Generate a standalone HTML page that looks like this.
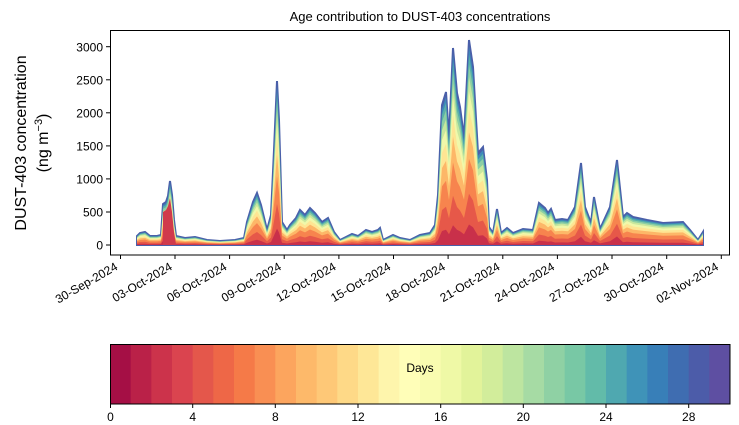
<!DOCTYPE html>
<html><head><meta charset="utf-8"><style>
html,body{margin:0;padding:0;background:#fff;}
svg{display:block;font-family:"Liberation Sans","DejaVu Sans",sans-serif;}
</style></head><body>
<svg width="739" height="425" viewBox="0 0 739 425" xmlns="http://www.w3.org/2000/svg" xmlns:xlink="http://www.w3.org/1999/xlink">
<defs>
<clipPath id="pc"><rect x="110" y="30" width="620" height="225"/></clipPath>
<path id="d" d="M137,245 L137,236 L140,233 L145,232 L150,236 L157,236 L161,235 L163,204 L166,202 L168,196 L170,181 L172,195 L174,220 L176,236 L185,238 L195,237 L207,240 L220,241 L235,240 L244,238 L247,222 L253,202 L257,193 L261,205 L267,230 L271,215 L274,150 L277,81 L279,120 L282,222 L287,230 L290,225 L296,218 L300,210 L305,215 L310,208 L315,213 L322,222 L328,218 L334,232 L340,240 L346,237 L352,234 L358,236 L366,230 L372,232 L378,230 L380,228 L383,240 L393,235 L400,238 L410,240 L420,235 L430,233 L435,225 L438,195 L442,105 L446,92 L449,138 L453,48 L457,93 L460,107 L464,137 L469,40 L473,67 L478,153 L483,147 L487,180 L489,227 L493,233 L497,209 L501,233 L507,228 L513,233 L523,229 L533,230 L539,203 L545,208 L548,213 L551,209 L555,220 L562,219 L568,220 L575,207 L581,163 L585,207 L591,223 L594,197 L600,229 L610,207 L617,160 L623,217 L627,213 L633,217 L647,220 L663,223 L683,222 L690,230 L698,240 L703,232 L703,245 Z"/>
</defs>
<rect x="0" y="0" width="739" height="425" fill="#fff"/>
<text x="420" y="21" font-size="13" text-anchor="middle">Age contribution to DUST-403 concentrations</text>
<g clip-path="url(#pc)">
<use xlink:href="#d" fill="#4a5fa9" stroke="#4a5fa9" stroke-width="2"/>
<use xlink:href="#d" fill="#3d8ab9" transform="translate(0,245) scale(1,0.97) translate(0,-245)"/>
<use xlink:href="#d" fill="#5ab1a8" transform="translate(0,245) scale(1,0.93) translate(0,-245)"/>
<use xlink:href="#d" fill="#8ccfa4" transform="translate(0,245) scale(1,0.88) translate(0,-245)"/>
<use xlink:href="#d" fill="#c8e89e" transform="translate(0,245) scale(1,0.82) translate(0,-245)"/>
<use xlink:href="#d" fill="#f0f8aa" transform="translate(0,245) scale(1,0.75) translate(0,-245)"/>
<use xlink:href="#d" fill="#fee593" transform="translate(0,245) scale(1,0.66) translate(0,-245)"/>
<use xlink:href="#d" fill="#fdb768" transform="translate(0,245) scale(1,0.55) translate(0,-245)"/>
<use xlink:href="#d" fill="#f7844e" transform="translate(0,245) scale(1,0.42) translate(0,-245)"/>
<use xlink:href="#d" fill="#e65849" transform="translate(0,245) scale(1,0.25) translate(0,-245)"/>
<use xlink:href="#d" fill="#c9304a" transform="translate(0,245) scale(1,0.10) translate(0,-245)"/>
<polygon points="163,245 163,212 166,210 168,206 170,198 172,212 174,232 176,245" fill="#d03a4c"/>
</g>
<rect x="110.5" y="30.5" width="619" height="224.5" fill="none" stroke="#000" stroke-width="1"/>
<g font-size="12" text-anchor="end" fill="#000">
<line x1="106" y1="245" x2="110" y2="245" stroke="#000"/><text x="103" y="249.5">0</text>
<line x1="106" y1="212" x2="110" y2="212" stroke="#000"/><text x="103" y="216.5">500</text>
<line x1="106" y1="178.9" x2="110" y2="178.9" stroke="#000"/><text x="103" y="183.5">1000</text>
<line x1="106" y1="145.9" x2="110" y2="145.9" stroke="#000"/><text x="103" y="150.5">1500</text>
<line x1="106" y1="112.8" x2="110" y2="112.8" stroke="#000"/><text x="103" y="117.5">2000</text>
<line x1="106" y1="79.8" x2="110" y2="79.8" stroke="#000"/><text x="103" y="84.5">2500</text>
<line x1="106" y1="46.7" x2="110" y2="46.7" stroke="#000"/><text x="103" y="51.5">3000</text>
</g>
<text transform="translate(26,143) rotate(-90)" font-size="16" text-anchor="middle">DUST-403 concentration</text>
<text transform="translate(48,143) rotate(-90)" font-size="16" text-anchor="middle">(ng m<tspan font-size="11" dy="-6">−3</tspan><tspan dy="6">)</tspan></text>
<g font-size="12" text-anchor="end">
<g transform="translate(120.5,0)"><line x1="0" y1="255" x2="0" y2="259" stroke="#000"/><text transform="translate(-2,269) rotate(-30)">30-Sep-2024</text></g>
<g transform="translate(175,0)"><line x1="0" y1="255" x2="0" y2="259" stroke="#000"/><text transform="translate(-2,269) rotate(-30)">03-Oct-2024</text></g>
<g transform="translate(229.6,0)"><line x1="0" y1="255" x2="0" y2="259" stroke="#000"/><text transform="translate(-2,269) rotate(-30)">06-Oct-2024</text></g>
<g transform="translate(284.2,0)"><line x1="0" y1="255" x2="0" y2="259" stroke="#000"/><text transform="translate(-2,269) rotate(-30)">09-Oct-2024</text></g>
<g transform="translate(338.9,0)"><line x1="0" y1="255" x2="0" y2="259" stroke="#000"/><text transform="translate(-2,269) rotate(-30)">12-Oct-2024</text></g>
<g transform="translate(393.5,0)"><line x1="0" y1="255" x2="0" y2="259" stroke="#000"/><text transform="translate(-2,269) rotate(-30)">15-Oct-2024</text></g>
<g transform="translate(448.1,0)"><line x1="0" y1="255" x2="0" y2="259" stroke="#000"/><text transform="translate(-2,269) rotate(-30)">18-Oct-2024</text></g>
<g transform="translate(502.8,0)"><line x1="0" y1="255" x2="0" y2="259" stroke="#000"/><text transform="translate(-2,269) rotate(-30)">21-Oct-2024</text></g>
<g transform="translate(557.4,0)"><line x1="0" y1="255" x2="0" y2="259" stroke="#000"/><text transform="translate(-2,269) rotate(-30)">24-Oct-2024</text></g>
<g transform="translate(612,0)"><line x1="0" y1="255" x2="0" y2="259" stroke="#000"/><text transform="translate(-2,269) rotate(-30)">27-Oct-2024</text></g>
<g transform="translate(666.7,0)"><line x1="0" y1="255" x2="0" y2="259" stroke="#000"/><text transform="translate(-2,269) rotate(-30)">30-Oct-2024</text></g>
<g transform="translate(721.3,0)"><line x1="0" y1="255" x2="0" y2="259" stroke="#000"/><text transform="translate(-2,269) rotate(-30)">02-Nov-2024</text></g>
</g>
<g transform="translate(110,344)">
<rect x="0" width="21" height="60" fill="#a50f45"/>
<rect x="20.67" width="21" height="60" fill="#ba2148"/>
<rect x="41.33" width="21" height="60" fill="#cc334b"/>
<rect x="62" width="21" height="60" fill="#da444f"/>
<rect x="82.67" width="21" height="60" fill="#e4574b"/>
<rect x="103.33" width="21" height="60" fill="#ee6747"/>
<rect x="124" width="21" height="60" fill="#f57a48"/>
<rect x="144.67" width="21" height="60" fill="#f98f53"/>
<rect x="165.33" width="21" height="60" fill="#fca55e"/>
<rect x="186" width="21" height="60" fill="#fdb96a"/>
<rect x="206.67" width="21" height="60" fill="#fec877"/>
<rect x="227.33" width="21" height="60" fill="#fed987"/>
<rect x="248" width="21" height="60" fill="#fee797"/>
<rect x="268.67" width="21" height="60" fill="#fef5ac"/>
<rect x="289.33" width="21" height="60" fill="#fffeb8"/>
<rect x="310" width="21" height="60" fill="#f9fcb0"/>
<rect x="330.67" width="21" height="60" fill="#eff9a6"/>
<rect x="351.33" width="21" height="60" fill="#e2f39a"/>
<rect x="372" width="21" height="60" fill="#d2ed9b"/>
<rect x="392.67" width="21" height="60" fill="#bde5a0"/>
<rect x="413.33" width="21" height="60" fill="#a6dba4"/>
<rect x="434" width="21" height="60" fill="#8fd1a4"/>
<rect x="454.67" width="21" height="60" fill="#78c8a5"/>
<rect x="475.33" width="21" height="60" fill="#62bba9"/>
<rect x="496" width="21" height="60" fill="#4fa8b0"/>
<rect x="516.67" width="21" height="60" fill="#3f93b8"/>
<rect x="537.33" width="21" height="60" fill="#387fb8"/>
<rect x="558" width="21" height="60" fill="#3f6db1"/>
<rect x="578.67" width="21" height="60" fill="#4c5ca9"/>
<rect x="599.33" width="20.67" height="60" fill="#5e4fa2"/>
<rect x="0.5" y="0.5" width="619.5" height="59.5" fill="none" stroke="#000"/>
<text x="310" y="28" font-size="12" text-anchor="middle">Days</text>
<g font-size="12" text-anchor="middle">
<line x1="0.5" y1="60" x2="0.5" y2="64" stroke="#000"/><text x="0.5" y="77">0</text>
<line x1="82.7" y1="60" x2="82.7" y2="64" stroke="#000"/><text x="82.7" y="77">4</text>
<line x1="165.3" y1="60" x2="165.3" y2="64" stroke="#000"/><text x="165.3" y="77">8</text>
<line x1="248" y1="60" x2="248" y2="64" stroke="#000"/><text x="248" y="77">12</text>
<line x1="330.7" y1="60" x2="330.7" y2="64" stroke="#000"/><text x="330.7" y="77">16</text>
<line x1="413.3" y1="60" x2="413.3" y2="64" stroke="#000"/><text x="413.3" y="77">20</text>
<line x1="496" y1="60" x2="496" y2="64" stroke="#000"/><text x="496" y="77">24</text>
<line x1="578.7" y1="60" x2="578.7" y2="64" stroke="#000"/><text x="578.7" y="77">28</text>
</g>
</g>
</svg>
</body></html>
